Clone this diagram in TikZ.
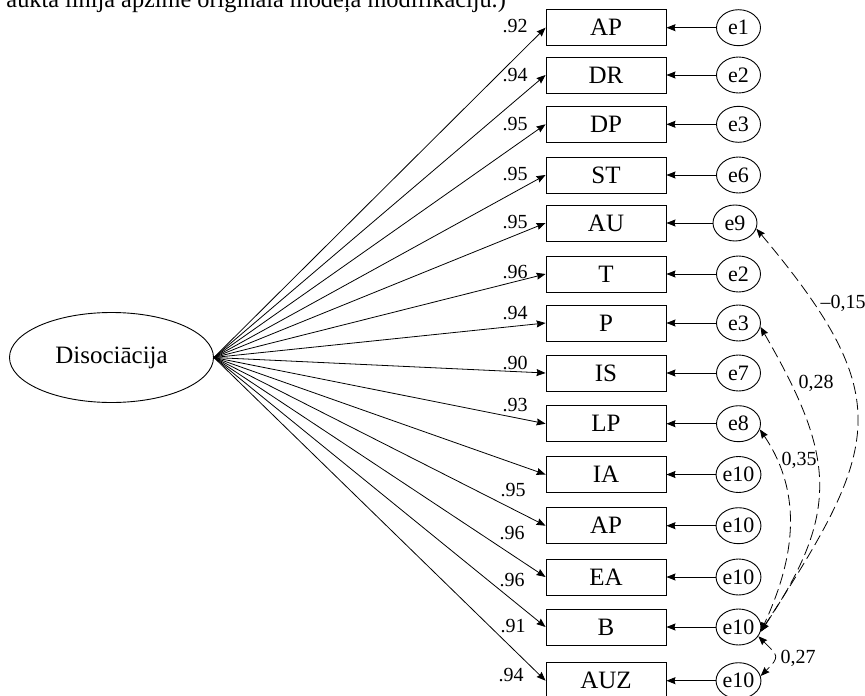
\documentclass[tikz,border=0pt]{standalone}
\usepackage{fontspec}
\setmainfont{Liberation Serif}
\usetikzlibrary{shapes.geometric,arrows.meta}
\begin{document}
\begin{tikzpicture}[x=1pt,y=-1pt,
  ind/.style={draw, line width=0.9pt, minimum width=120pt, minimum height=36pt, inner sep=0pt, font=\fontsize{25}{25}\selectfont},
  err/.style={draw, ellipse, line width=0.9pt, minimum width=44pt, minimum height=36pt, inner sep=0pt, font=\fontsize{22}{22}\selectfont},
  lat/.style={draw, ellipse, line width=0.9pt, minimum width=204pt, minimum height=90pt, inner sep=0pt, font=\fontsize{25}{25}\selectfont},
  load/.style={line width=0.8pt, -{Stealth[length=9pt,width=7pt,inset=1pt]}},
  corr/.style={line width=0.8pt, dash pattern=on 11pt off 5pt, {Stealth[length=9pt,width=7pt,inset=1pt]}-{Stealth[length=9pt,width=7pt,inset=1pt]}},
  coef/.style={font=\fontsize{20}{20}\selectfont, inner sep=0pt},
  note/.style={font=\fontsize{24.3}{24.3}\selectfont, inner sep=0pt, anchor=base east},
]
\useasboundingbox (0,0) rectangle (865,696);

\node[note] (top) at (506,7) {aukta līnija apzīmē oriģinālā modeļa modifikāciju.)};

\node[lat] (F) at (111.5,357.5) {Disociācija};

\foreach \n/\y/\t/\e/\ex in {1/27.7/AP/e1/738.5, 2/75/DR/e2/738.5, 3/124.3/DP/e3/738.5, 4/175/ST/e6/738.5,
  5/223/AU/e9/735, 6/274/T/e2/738.5, 7/323/P/e3/738.5, 8/373/IS/e7/738.5, 9/423.7/LP/e8/738.5,
  10/474.5/IA/e10/738.5, 11/525.7/AP/e10/738.5, 12/577/EA/e10/738.5, 13/627/B/e10/738.5, 14/680.7/AUZ/e10/738.5}{
  \node[ind] (b\n) at (606,\y) {\t};
  \node[err] (e\n) at (\ex,\y) {\e};
  \draw[load] (e\n) -- (b\n);
  \draw[load] (F.east) -- (b\n.west);
}

\foreach \n/\x/\y/\v in {1/515/26/.92, 2/515/75/.94, 3/515/124/.95, 4/515/174/.95, 5/515/222/.95,
  6/515/272/.96, 7/515/313/.94, 8/515/363/.90, 9/515/405/.93, 10/513/490/.95, 11/512/533/.96,
  12/512/580/.96, 13/513/626/.91, 14/511/675/.94}{
  \node[coef] (l\n) at (\x,\y) {\v};
}

\draw[corr] (e5.-15) to[out=-50, in=57, looseness=1.4] (e13.-12);
\draw[corr] (e7.-10) to[out=-60, in=56, looseness=1.23] (e13.-12);
\draw[corr] (e9.-15) to[out=-56, in=65, looseness=1.0] (e13.-12);
\draw[corr] (e13.-25) to[out=-45, in=45, looseness=1.8] (e14.12);

\node[coef] (c1) at (843,303) {–0,15};
\node[coef] (c2) at (816,383) {0,28};
\node[coef] (c3) at (799,460) {0,35};
\node[coef] (c4) at (798,658) {0,27};
\end{tikzpicture}
\end{document}
